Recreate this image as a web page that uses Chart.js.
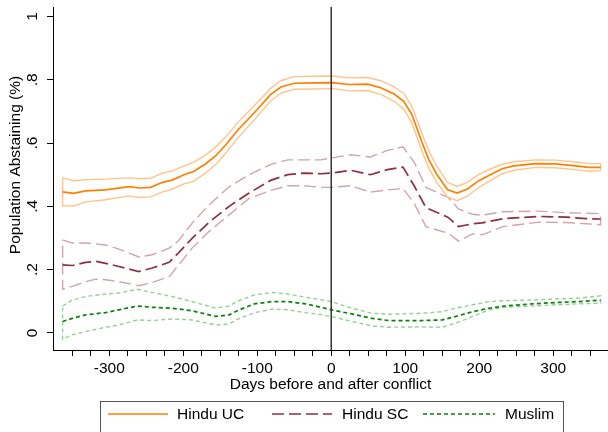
<!DOCTYPE html>
<html>
<head>
<meta charset="utf-8">
<script src="https://cdn.jsdelivr.net/npm/chart.js@4/dist/chart.umd.min.js"></script>
<style>
  html, body { margin: 0; padding: 0; background: #fff; }
  #chart { display: block; }
</style>
</head>
<body>
<canvas id="chart" width="608" height="432"></canvas>
<script>
// Values (days relative to conflict, share abstaining)
const seriesNames = ["Hindu UC", "Hindu SC", "Muslim"];

const ucDays = [-363, -348, -332, -305, -273, -259, -244, -228, -215, -199, -186, -170, -156, -143, -127, -100, -82, -68, -50, -23, 1, 24, 49, 67, 85, 98, 109, 123, 132, 143, 157, 170, 184, 200, 215, 231, 247, 276, 303, 330, 348, 364];
const ucMean = [.446, .441, .449, .452, .462, .458, .460, .476, .483, .500, .510, .534, .560, .593, .639, .706, .753, .777, .789, .790, .791, .785, .786, .775, .755, .732, .690, .600, .547, .500, .453, .442, .455, .482, .500, .519, .528, .535, .534, .528, .523, .523];
const ucHigh = [.490, .481, .484, .486, .490, .487, .489, .505, .512, .528, .539, .562, .588, .618, .663, .728, .773, .797, .810, .811, .812, .806, .807, .797, .778, .757, .716, .628, .574, .526, .476, .463, .476, .502, .518, .533, .541, .547, .546, .540, .535, .535];
const ucLow = [.402, .401, .414, .421, .433, .428, .430, .446, .454, .471, .479, .505, .532, .567, .614, .684, .733, .758, .770, .771, .772, .765, .766, .754, .732, .707, .664, .572, .520, .474, .430, .418, .432, .461, .481, .503, .514, .523, .522, .516, .511, .513];

const scDays = [-363, -350, -332, -318, -305, -287, -260, -242, -219, -206, -188, -165, -138, -111, -82, -59, -37, -14, 0, 26, 53, 76, 97, 112, 128, 158, 172, 191, 204, 232, 281, 317, 344, 364];
const scMean = [.215, .213, .223, .226, .220, .210, .194, .205, .223, .254, .299, .350, .400, .442, .482, .500, .505, .503, .505, .514, .500, .516, .524, .465, .396, .365, .336, .345, .348, .361, .368, .366, .361, .360];
const scHigh = [.294, .284, .284, .281, .278, .265, .240, .247, .268, .292, .347, .405, .462, .500, .532, .547, .547, .547, .553, .563, .556, .577, .588, .540, .460, .428, .392, .375, .372, .383, .385, .380, .378, .377];
const scLow = [.138, .147, .162, .170, .168, .162, .149, .159, .178, .215, .268, .321, .373, .425, .450, .465, .465, .460, .460, .465, .445, .452, .456, .410, .336, .315, .290, .313, .310, .336, .350, .349, .345, .342];

const muDays = [-363, -350, -332, -305, -287, -262, -242, -215, -188, -156, -138, -127, -104, -80, -59, -35, -14, 0, 28, 55, 78, 121, 150, 168, 191, 213, 235, 272, 303, 335, 364];
const muMean = [.036, .046, .057, .064, .073, .085, .081, .078, .070, .052, .057, .070, .092, .099, .099, .092, .081, .073, .060, .046, .039, .039, .041, .052, .067, .078, .085, .092, .096, .099, .104];
const muHigh = [.085, .104, .115, .123, .126, .138, .128, .115, .099, .078, .085, .100, .120, .128, .123, .113, .105, .099, .078, .062, .059, .062, .067, .078, .089, .099, .102, .104, .107, .110, .117];
const muLow = [-.020, -.006, .004, .018, .025, .041, .039, .044, .041, .025, .028, .043, .064, .075, .073, .064, .058, .052, .036, .022, .018, .019, .018, .031, .052, .073, .081, .085, .089, .092, .094];

const xTickValues = [-350, -325, -300, -275, -250, -225, -200, -175, -150, -125, -100, -75, -50, -25, 0, 25, 50, 75, 100, 125, 150, 175, 200, 225, 250, 275, 300, 325, 350];
const yTickValues = [0, 0.2, 0.4, 0.6, 0.8, 1];
const yTickLabels = ["0", ".2", ".4", ".6", ".8", "1"];
const yTitle = "Population Abstaining (%)";

const FONT = "'Liberation Sans', Arial, sans-serif";
const FS = 15.5;
Chart.defaults.font.family = FONT;
Chart.defaults.font.size = FS;
Chart.defaults.color = "#000";

const toPts = (days, vals) => days.map((d, i) => ({ x: d, y: vals[i] }));
// closed outline of a confidence band: upper edge forward, lower edge back
function bandOutline(days, hi, lo) {
  const pts = toPts(days, hi);
  for (let i = days.length - 1; i >= 0; i--) pts.push({ x: days[i], y: lo[i] });
  pts.push(pts[0]);
  return pts;
}

const C_UC = "#ff7f00", C_UC_CI = "#ffc48c";
const C_SC = "#8e2f3e", C_SC_CI = "#d3a3aa";
const C_MU = "#0a820a", C_MU_CI = "#93d193";
const DASH_SC = [12, 5];
const DASH_MU = [4, 3];

const datasets = [
  { label: seriesNames[0], data: toPts(ucDays, ucMean), borderColor: C_UC, borderWidth: 1.7, order: 1, isMean: true },
  { label: seriesNames[1], data: toPts(scDays, scMean), borderColor: C_SC, borderWidth: 1.7, borderDash: DASH_SC, order: 2, isMean: true },
  { label: seriesNames[2], data: toPts(muDays, muMean), borderColor: C_MU, borderWidth: 1.7, borderDash: DASH_MU, order: 3, isMean: true },
  { label: "UC CI", data: bandOutline(ucDays, ucHigh, ucLow), borderColor: C_UC_CI, borderWidth: 1.4, order: 4 },
  { label: "SC CI", data: bandOutline(scDays, scHigh, scLow), borderColor: C_SC_CI, borderWidth: 1.4, borderDash: DASH_SC, order: 5 },
  { label: "Muslim CI", data: bandOutline(muDays, muHigh, muLow), borderColor: C_MU_CI, borderWidth: 1.4, borderDash: DASH_MU, order: 6 },
];

const extras = {
  id: "extras",
  afterDatasetsDraw(chart) {
    const { ctx, chartArea } = chart;
    const x0 = chart.scales.x.getPixelForValue(0);
    ctx.save();
    ctx.strokeStyle = "#333";
    ctx.lineWidth = 1.5;
    ctx.beginPath();
    ctx.moveTo(x0, chartArea.top);
    ctx.lineTo(x0, chartArea.bottom);
    ctx.stroke();
    ctx.restore();
  },
  afterDraw(chart) {
    const { ctx } = chart;
    const ys = chart.scales.y;
    ctx.save();
    ctx.fillStyle = "#000";
    ctx.font = FS + "px " + FONT;
    ctx.textAlign = "center";
    ctx.textBaseline = "middle";
    yTickValues.forEach((v, i) => {
      ctx.save();
      ctx.translate(33, ys.getPixelForValue(v));
      ctx.rotate(-Math.PI / 2);
      ctx.fillText(yTickLabels[i], 0, 0);
      ctx.restore();
    });
    // axis title, centred like the original rather than on the full scale
    ctx.save();
    ctx.translate(16, 165);
    ctx.rotate(-Math.PI / 2);
    ctx.fillText(yTitle, 0, 0);
    ctx.restore();

    // legend box in the Stata style
    ctx.strokeStyle = "#555";
    ctx.lineWidth = 1;
    ctx.strokeRect(100.5, 401.5, 463, 40);
    const keys = [[108, 168, 177], [272, 332, 342], [423, 495, 505]];
    const means = chart.data.datasets.filter(d => d.isMean);
    means.forEach((d, i) => {
      const [a, b, tx] = keys[i];
      ctx.strokeStyle = d.borderColor;
      ctx.lineWidth = d.borderWidth;
      ctx.setLineDash(d.borderDash || []);
      ctx.beginPath();
      ctx.moveTo(a, 414);
      ctx.lineTo(b, 414);
      ctx.stroke();
      ctx.setLineDash([]);
      ctx.textAlign = "left";
      ctx.fillText(d.label, tx, 415);
    });
    ctx.restore();
  },
};

new Chart(document.getElementById("chart"), {
  type: "line",
  data: { datasets },
  options: {
    responsive: false,
    animation: false,
    layout: { padding: { top: 7, right: 0, bottom: 37, left: 0 } },
    elements: { point: { radius: 0 }, line: { tension: 0, fill: false } },
    plugins: { legend: { display: false }, tooltip: { enabled: false } },
    scales: {
      x: {
        type: "linear",
        min: -376, max: 374,
        afterBuildTicks: (s) => { s.ticks = xTickValues.map(v => ({ value: v })); },
        afterFit: (s) => { s.height = 45; },
        ticks: {
          padding: 3,
          maxRotation: 0,
          autoSkip: false,
          callback: (v) => (v % 100 === 0 ? String(v) : ""),
        },
        grid: { drawOnChartArea: false, drawTicks: true, tickLength: 6, color: "#000" },
        border: { display: true, color: "#000", width: 1 },
        title: { display: true, text: "Days before and after conflict", padding: { top: 0, bottom: 1 } },
      },
      y: {
        min: -0.054, max: 1.03,
        afterBuildTicks: (s) => { s.ticks = yTickValues.map(v => ({ value: v })); },
        afterFit: (s) => { s.width = 53; },
        ticks: { display: false },
        grid: { drawOnChartArea: false, drawTicks: true, tickLength: 6, color: "#000" },
        border: { display: true, color: "#000", width: 1 },
        title: { display: false },
      },
    },
  },
  plugins: [extras],
});
</script>
</body>
</html>
